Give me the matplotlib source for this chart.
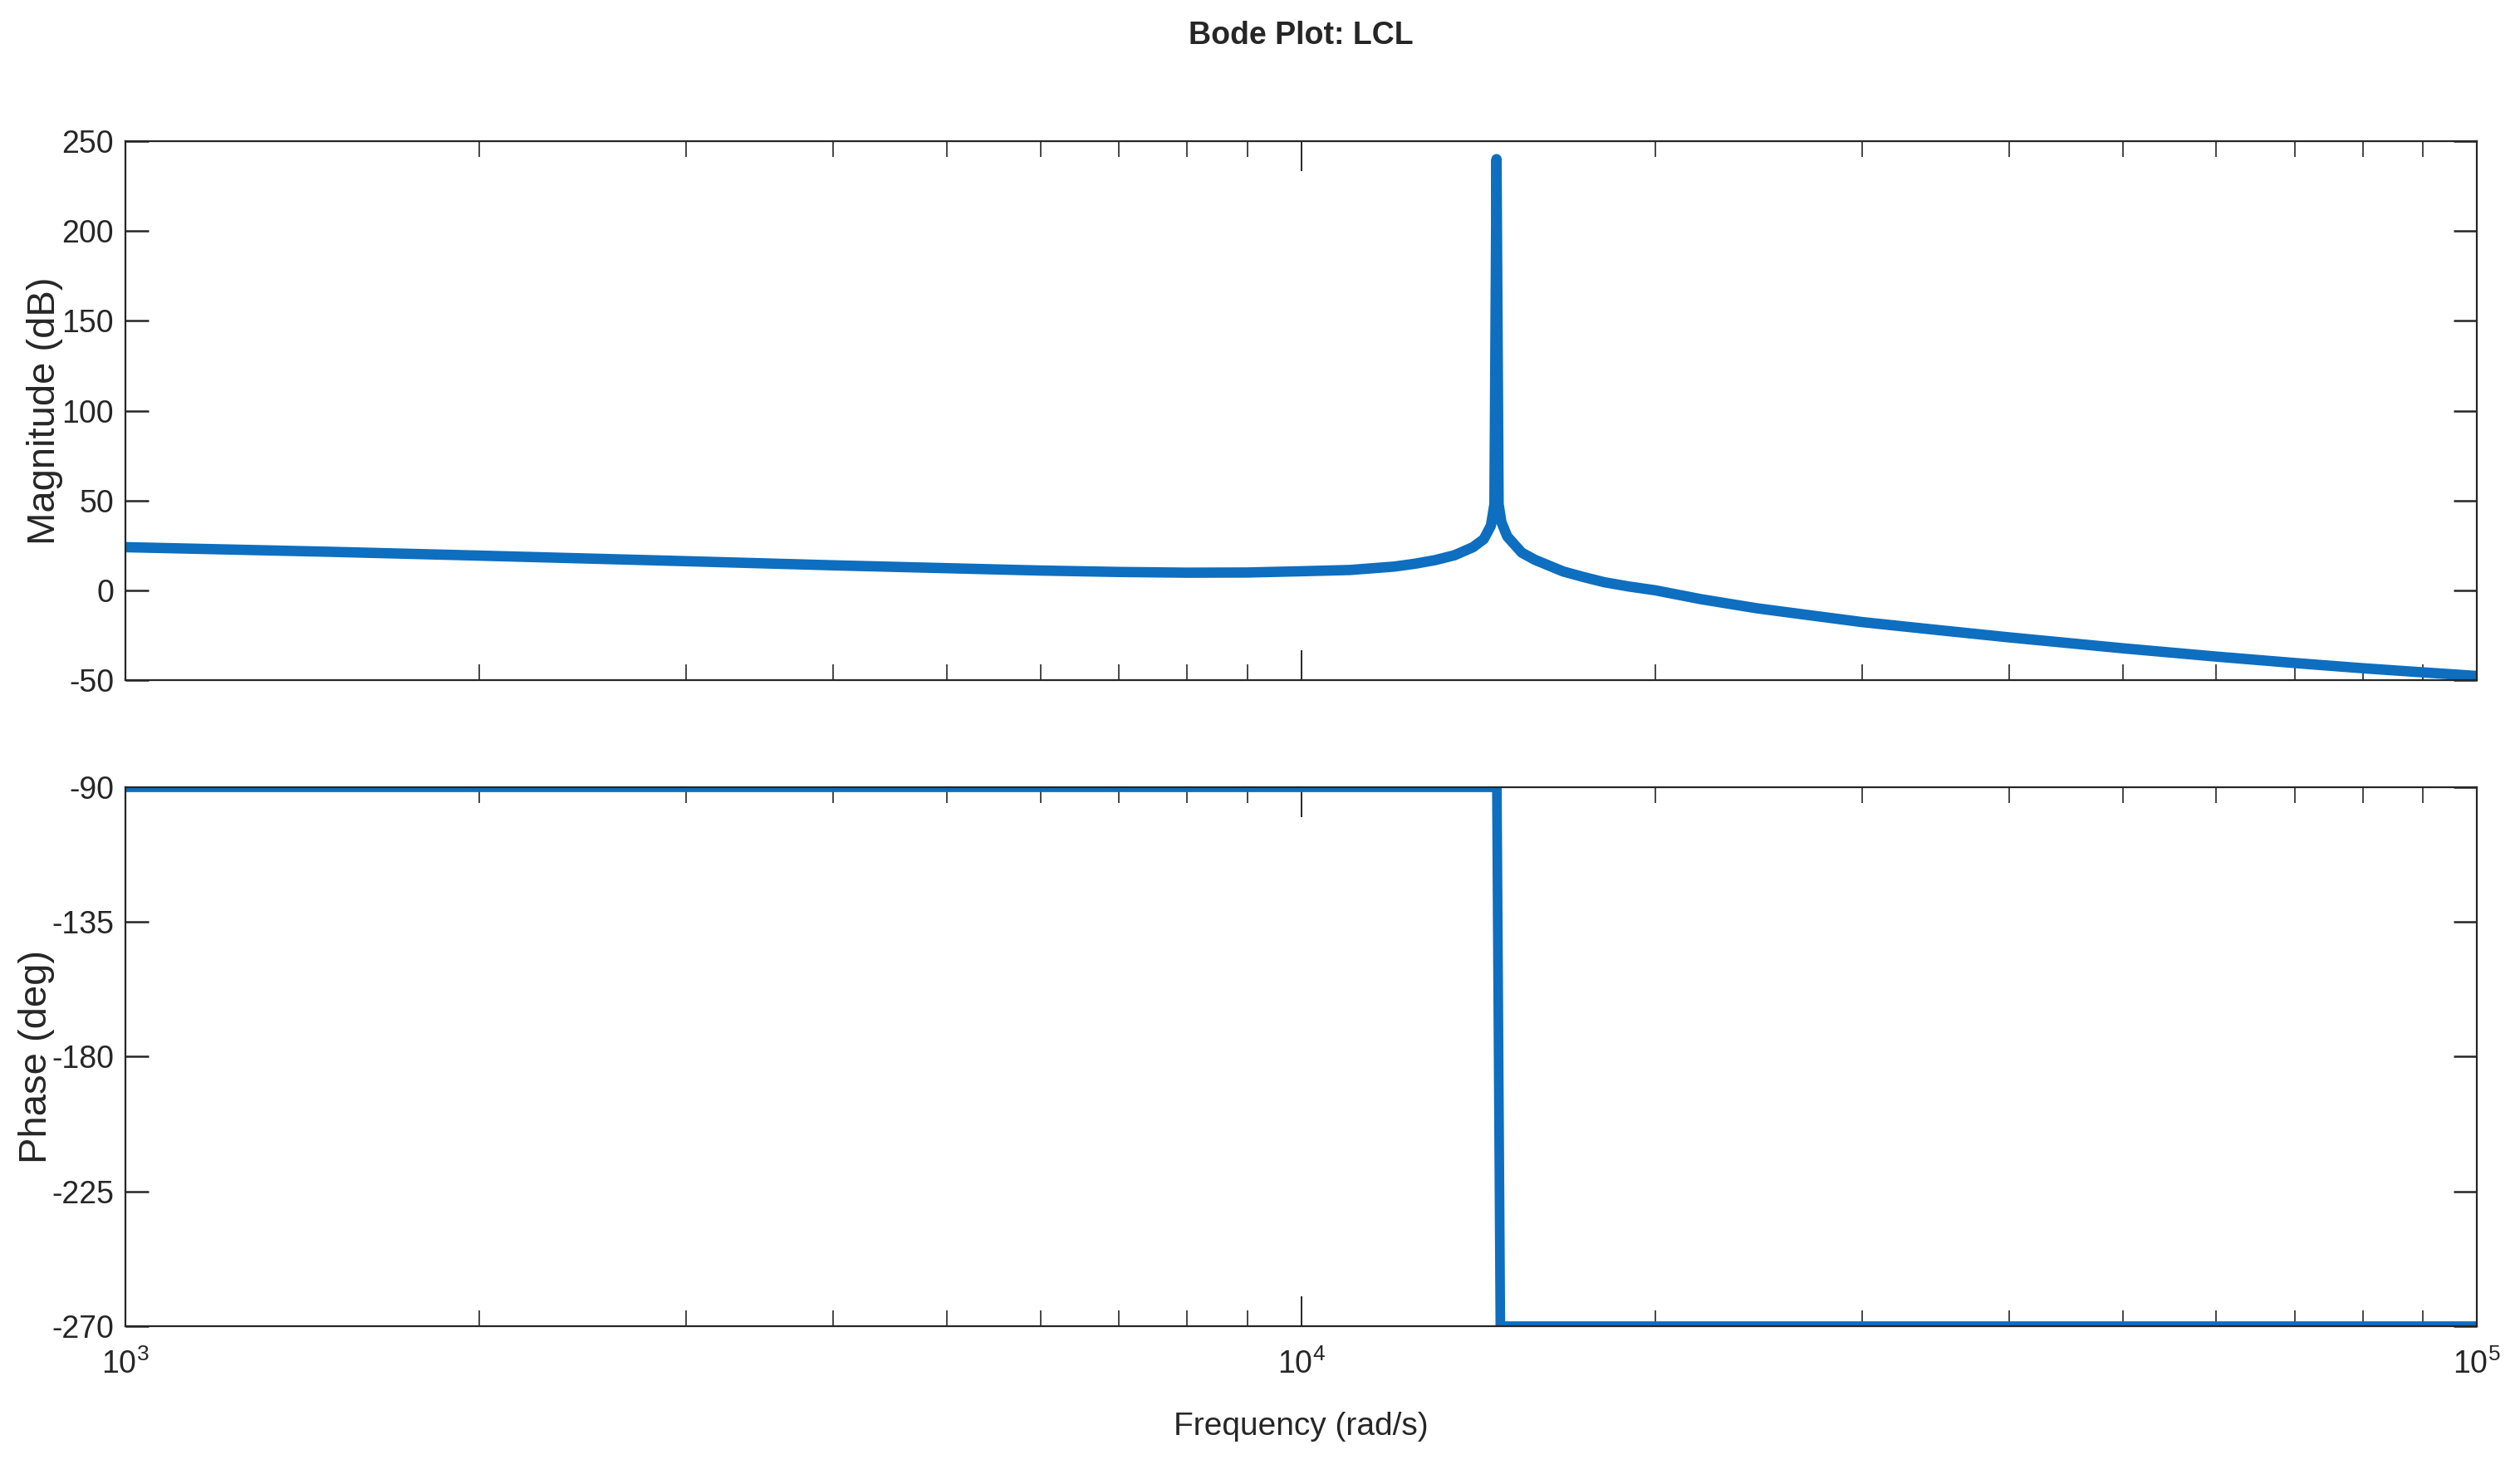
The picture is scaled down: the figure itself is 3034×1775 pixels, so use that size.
import numpy as np
import matplotlib
matplotlib.use("Agg")
import matplotlib.pyplot as plt
from matplotlib.ticker import LogLocator, NullFormatter, FixedLocator

# magnitude response (rad/s, dB)
mag_freq = [1000, 1500, 2000, 3000, 4000, 5000, 6000, 7000, 8000, 9000,
            10000, 11000, 12000, 12500, 13000, 13500, 14000, 14300, 14500,
            14600, 14660, 14720, 14800, 14970, 15400, 15800, 16700, 17400,
            18100, 19000, 20000, 21900, 24400, 27000, 30000, 35000, 40000,
            50000, 60000, 70000, 80000, 90000, 100000]
mag_db = [24, 21.4, 19.3, 16.2, 13.9, 12.3, 11, 10.2, 9.8, 9.9,
          10.6, 11.3, 13.2, 14.8, 16.8, 19.5, 24, 28.5, 36,
          48, 240, 48, 38, 30, 21, 17, 10.5, 7.3,
          4.5, 2.1, 0, -5, -10, -13.8, -17.7, -22.3, -26.2,
          -32.3, -36.9, -40.5, -43.4, -45.7, -47.7]

# phase response (rad/s, deg)
ph_freq = [1000, 14670, 14770, 100000]
ph_deg = [-90, -90, -270, -270]

mag_ticks = [-50, 0, 50, 100, 150, 200, 250]
ph_ticks = [-270, -225, -180, -135, -90]

plt.rcParams["font.family"] = ["Liberation Sans", "DejaVu Sans"]
plt.rcParams["axes.unicode_minus"] = False
plt.rcParams["mathtext.fontset"] = "custom"
plt.rcParams["mathtext.rm"] = "Liberation Sans"
plt.rcParams["mathtext.it"] = "Liberation Sans"
plt.rcParams["mathtext.bf"] = "Liberation Sans:bold"

line_color = "#0E6EBF"
ink = "#262626"
tick_size = 13.5

fig = plt.figure(figsize=(15.17, 8.875), dpi=200)
ax1 = fig.add_axes([0.0498, 0.5386, 0.9331, 0.3656])
ax2 = fig.add_axes([0.0498, 0.1003, 0.9331, 0.3656])

ax1.plot(mag_freq, mag_db, color=line_color, lw=4.5, solid_capstyle="round",
         solid_joinstyle="round")
ax2.plot(ph_freq, ph_deg, color=line_color, lw=4.2, solid_joinstyle="miter")

for ax in (ax1, ax2):
    ax.set_xscale("log")
    ax.set_xlim(1e3, 1e5)
    ax.xaxis.set_major_locator(FixedLocator([1e3, 1e4, 1e5]))
    ax.xaxis.set_minor_locator(LogLocator(base=10, subs=np.arange(2, 10), numticks=20))
    ax.xaxis.set_minor_formatter(NullFormatter())
    ax.tick_params(axis="x", which="major", direction="in", length=13, width=0.7,
                   top=True, bottom=True, color=ink)
    ax.tick_params(axis="x", which="minor", direction="in", length=7, width=0.6,
                   top=True, bottom=True, color=ink)
    ax.tick_params(axis="y", which="major", direction="in", length=10, width=0.9,
                   left=True, right=True, color=ink, pad=5,
                   labelsize=tick_size, labelcolor=ink)
    for sp in ax.spines.values():
        sp.set_color(ink)
        sp.set_linewidth(0.8)

ax1.set_ylim(-50, 250)
ax1.set_yticks(mag_ticks)
ax1.set_xticklabels([])

ax2.set_ylim(-270, -90)
ax2.set_yticks(ph_ticks)
ax2.tick_params(axis="x", which="major", pad=10, labelsize=tick_size, labelcolor=ink)

ax1.set_ylabel("Magnitude (dB)", fontsize=17, color=ink)
ax1.yaxis.set_label_coords(-0.0266, 0.5)
ax2.set_ylabel("Phase (deg)", fontsize=17, color=ink)
ax2.yaxis.set_label_coords(-0.030, 0.5)

ax2.set_xlabel("Frequency (rad/s)", fontsize=14, color=ink)
ax2.xaxis.set_label_coords(0.5, -0.158)

fig.text(0.5163, 0.976, "Bode Plot: LCL", ha="center", va="center",
         fontsize=13.5, fontweight="bold", color=ink)

fig.savefig("out.png", dpi=200, facecolor="white")
